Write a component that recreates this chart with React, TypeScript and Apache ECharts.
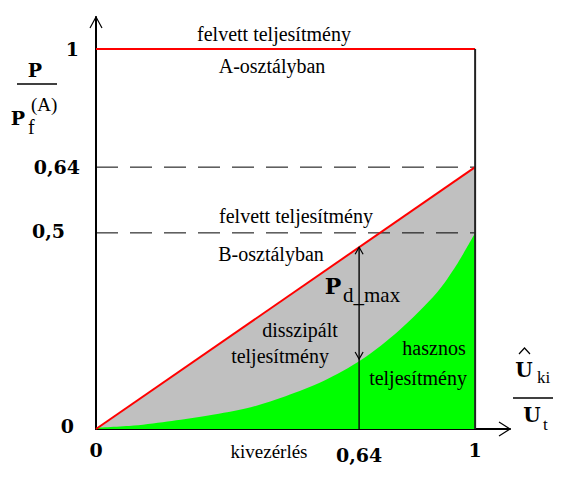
import React, { useEffect, useRef } from 'react';
import * as echarts from 'echarts';

// A rajz nem méretarányos: a tengelyértékek a kép pozícióiból vannak leolvasva
const xMax = 1.092;
const yMax = 1.084;
const xTicks = [0, 0.694, 1];
const xTickLabels = ['0', '0,64', '1'];
const yTicks = [0, 0.516, 0.689, 1];
const yTickLabels = ['0', '0,5', '0,64', '1'];

// felvett teljesítmény A-osztályban
const classAX = [0, 1];
const classAY = [1, 1];
// felvett teljesítmény B-osztályban
const classBX = [0, 1];
const classBY = [0, 0.689];
// hasznos teljesítmény
const usefulX = [0, 0.1, 0.2, 0.3, 0.4, 0.5, 0.6, 0.7, 0.8, 0.9, 0.95, 1];
const usefulY = [0.003, 0.009, 0.021, 0.036, 0.055, 0.086, 0.126, 0.182, 0.26, 0.36, 0.43, 0.516];
// szaggatott szintek
const dashLevels = [0.689, 0.516];
// Pd max
const pdX = 0.694;
const pdTop = 0.478;
const pdBottom = 0.184;

const SERIF = "'Liberation Serif'";
const BOLD = "'DejaVu Serif'";

const txt = (text: string, x: number, y: number, size: number, opts: any = {}) => ({
  type: 'text',
  x,
  y,
  z: 10,
  style: {
    text,
    fill: '#000',
    font: `${opts.bold ? 'bold' : 'normal'} ${size}px ${opts.bold ? BOLD : SERIF}`,
    align: opts.align || 'center',
    verticalAlign: 'middle',
  },
});

const hline = (x1: number, x2: number, y: number) => ({
  type: 'line',
  z: 10,
  shape: { x1, y1: y, x2, y2: y },
  style: { stroke: '#000', lineWidth: 1.5 },
});

const App: React.FC = () => {
  const chartRef = useRef<HTMLDivElement>(null);

  useEffect(() => {
    if (!chartRef.current) return;
    const chart = echarts.init(chartRef.current, undefined, { renderer: 'svg' });

    const pairs = (xs: number[], ys: number[]) => xs.map((x, i) => [x, ys[i]]);

    const option: any = {
      animation: false,
      backgroundColor: '#fff',
      grid: { left: 96, top: 17, width: 414, height: 412 },
      xAxis: {
        type: 'value',
        min: 0,
        max: xMax,
        splitLine: { show: false },
        axisTick: { show: false },
        axisLine: { show: true, lineStyle: { color: '#000', width: 2 } },
        axisLabel: {
          customValues: xTicks,
          margin: 11,
          color: '#000',
          fontFamily: BOLD,
          fontWeight: 'bold',
          fontSize: 19,
          formatter: (v: number) => {
            const i = xTicks.indexOf(v);
            return i < 0 ? '' : `{x${i}|${xTickLabels[i]}}`;
          },
          rich: {
            x0: { fontFamily: BOLD, fontWeight: 'bold', fontSize: 19 },
            x1: { fontFamily: BOLD, fontWeight: 'bold', fontSize: 19, padding: [5, 0, 0, 0] },
            x2: { fontFamily: BOLD, fontWeight: 'bold', fontSize: 19 },
          },
        },
      },
      yAxis: {
        type: 'value',
        min: 0,
        max: yMax,
        splitLine: { show: false },
        axisTick: { show: false },
        axisLine: { show: true, lineStyle: { color: '#000', width: 2 } },
        axisLabel: {
          customValues: yTicks,
          margin: 16,
          color: '#000',
          fontFamily: BOLD,
          fontWeight: 'bold',
          fontSize: 19,
          formatter: (v: number) => {
            const i = yTicks.indexOf(v);
            return i < 0 ? '' : `{y${i}|${yTickLabels[i]}}`;
          },
          rich: {
            y0: { fontFamily: BOLD, fontWeight: 'bold', fontSize: 19, padding: [0, 6, 6, 0] },
            y1: { fontFamily: BOLD, fontWeight: 'bold', fontSize: 19, padding: [0, 15, 3, 0] },
            y2: { fontFamily: BOLD, fontWeight: 'bold', fontSize: 19 },
            y3: { fontFamily: BOLD, fontWeight: 'bold', fontSize: 19, padding: [0, 1, 0, 0] },
          },
        },
      },
      series: [
        {
          name: 'szürke',
          type: 'line',
          data: pairs(classBX, classBY),
          symbol: 'none',
          lineStyle: { width: 0 },
          areaStyle: { color: '#c0c0c0', opacity: 1 },
          z: 1,
        },
        {
          name: 'hasznos teljesítmény',
          type: 'line',
          data: pairs(usefulX, usefulY),
          symbol: 'none',
          smooth: 0.3,
          lineStyle: { width: 0 },
          areaStyle: { color: '#00ff00', opacity: 1 },
          z: 2,
        },
        ...dashLevels.map((lv) => ({
          type: 'line',
          data: [[0, lv], [1, lv]],
          symbol: 'none',
          lineStyle: { color: '#000', width: 1, type: [22, 12] },
          z: 3,
        })),
        {
          name: 'felvett B',
          type: 'line',
          data: pairs(classBX, classBY),
          symbol: 'none',
          lineStyle: { color: '#ff0000', width: 2 },
          z: 4,
        },
        {
          name: 'felvett A',
          type: 'line',
          data: pairs(classAX, classAY),
          symbol: 'none',
          lineStyle: { color: '#ff0000', width: 2 },
          z: 4,
        },
        {
          type: 'line',
          data: [[1, 0], [1, 1]],
          symbol: 'none',
          lineStyle: { color: '#222', width: 2 },
          z: 4,
        },
        {
          type: 'line',
          data: [[pdX, 0], [pdX, pdTop]],
          symbol: 'none',
          lineStyle: { color: '#111', width: 1.5 },
          z: 4,
        },
      ],
    };
    chart.setOption(option);

    const p = (x: number, y: number) => chart.convertToPixel({ gridIndex: 0 }, [x, y]) as number[];
    const chevron = (pts: number[][]) => ({
      type: 'polyline',
      z: 10,
      shape: { points: pts },
      style: { stroke: '#000', lineWidth: 1.2, fill: null },
    });
    const up = p(pdX, pdTop);
    const down = p(pdX, pdBottom);
    const xEnd = p(xMax, 0);
    const yEnd = p(0, yMax);

    chart.setOption({
      graphic: [
        chevron([[up[0] - 4, up[1] + 7], [up[0], up[1]], [up[0] + 4, up[1] + 7]]),
        chevron([[down[0] - 4, down[1] - 7], [down[0], down[1]], [down[0] + 4, down[1] - 7]]),
        chevron([[xEnd[0] - 11, xEnd[1] - 7], [xEnd[0], xEnd[1]], [xEnd[0] - 11, xEnd[1] + 7]]),
        chevron([[yEnd[0] - 6, yEnd[1] + 11], [yEnd[0], yEnd[1]], [yEnd[0] + 6, yEnd[1] + 11]]),
        // feliratok
        txt('felvett teljesítmény', 274, 34, 20),
        txt('A-osztályban', 272, 66, 20),
        txt('felvett teljesítmény', 296, 216, 20),
        txt('B-osztályban', 271, 254, 20),
        txt('disszipált', 300, 330, 20),
        txt('teljesítmény', 280, 356, 20),
        txt('hasznos', 434, 348, 20),
        txt('teljesítmény', 418, 378, 20),
        txt('kivezérlés', 269, 451, 19),
        // Pd max
        txt('P', 333, 286, 22, { bold: true }),
        txt('d_max', 343, 295, 21, { align: 'left' }),
        // függőleges tengely felirata
        txt('P', 35, 70, 19, { bold: true }),
        hline(17, 57, 84),
        txt('P', 18, 118, 19, { bold: true }),
        txt('f', 28, 127, 20, { align: 'left' }),
        txt('(A)', 31, 104, 19, { align: 'left' }),
        // vízszintes tengely felirata
        txt('U', 524, 370, 20, { bold: true }),
        chevron([[519, 354], [524.5, 348], [530, 354]]),
        txt('ki', 537, 377, 17, { align: 'left' }),
        hline(513, 553, 398),
        txt('U', 532, 415, 20, { bold: true }),
        txt('t', 543, 424, 17, { align: 'left' }),
      ],
    });

    return () => {
      chart.dispose();
    };
  }, []);

  return (
    <div
      ref={chartRef}
      style={{ position: 'fixed', left: 0, top: 0, width: 563, height: 477, background: '#fff' }}
    />
  );
};

export default App;
